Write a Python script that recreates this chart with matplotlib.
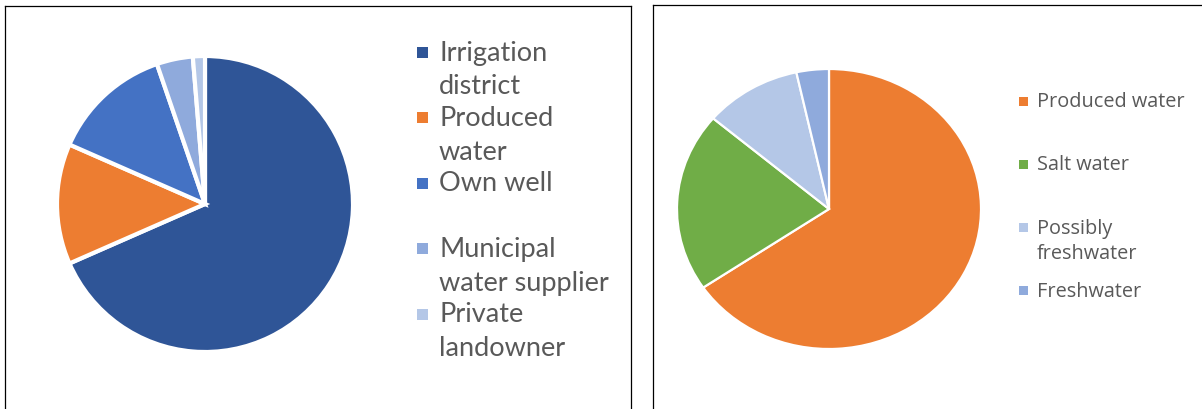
import matplotlib
matplotlib.use("Agg")
import matplotlib.pyplot as plt
from matplotlib.patches import Rectangle
from matplotlib.lines import Line2D

# water sources (left) and water types (right), counts
src_labels = ["Irrigation\ndistrict", "Produced\nwater", "Own well",
              "Municipal\nwater supplier", "Private\nlandowner"]
src_counts = [52, 10, 10, 3, 1]
src_colors = ["#2F5597", "#ED7D31", "#4472C4", "#8FAADC", "#B4C7E7"]

type_labels = ["Produced water", "Salt water", "Possibly\nfreshwater", "Freshwater"]
type_counts = [19, 6, 3, 1]
type_colors = ["#ED7D31", "#70AD47", "#B4C7E7", "#8FAADC"]

W, H = 1202, 410
fig = plt.figure(figsize=(W / 100, H / 100), dpi=100)
txt_col = "#595959"


def fx(x):
    return x / W


def fy(y):
    return 1 - y / H


# panel borders
for x0, x1, y0 in [(5, 631, 7), (653, 1210, 6)]:
    fig.add_artist(Line2D([fx(x0), fx(x0)], [fy(y0), fy(H + 5)], color="black", lw=0.9))
    fig.add_artist(Line2D([fx(x0), fx(x1)], [fy(y0), fy(y0)], color="black", lw=0.9))
    fig.add_artist(Line2D([fx(x1), fx(x1)], [fy(y0), fy(H + 5)], color="black", lw=0.9))

# left pie (circle, centre 205,205 r 148)
ax1 = fig.add_axes([fx(57), fy(353), 296 / W, 296 / H])
ax1.pie(src_counts, colors=src_colors, startangle=90, counterclock=False,
        wedgeprops=dict(edgecolor="white", linewidth=3))
ax1.set_aspect("auto")
ax1.set_xlim(-1, 1)
ax1.set_ylim(-1, 1)

# right pie (a bit wider than tall)
ax2 = fig.add_axes([fx(677), fy(350), 304 / W, 280 / H])
ax2.pie(type_counts, colors=type_colors, startangle=90, counterclock=False,
        wedgeprops=dict(edgecolor="white", linewidth=1.6))
ax2.set_aspect("auto")
ax2.set_xlim(-1, 1)
ax2.set_ylim(-1, 1)


def legend(labels, colors, x_box, box, x_txt, y0, step, line_h, size, family):
    for i, (lab, col) in enumerate(zip(labels, colors)):
        yc = y0 + i * step
        fig.add_artist(Rectangle((fx(x_box), fy(yc + box / 2)), box / W, box / H,
                                 transform=fig.transFigure, color=col, lw=0))
        for j, line in enumerate(lab.split("\n")):
            fig.text(fx(x_txt), fy(yc + j * line_h), line, fontsize=size,
                     family=family, color=txt_col, va="center", ha="left")


legend(src_labels, src_colors, 417, 11, 439, 53, 65.5, 34, 19.5, "Lato")
legend(type_labels, type_colors, 1019, 9, 1037, 102, 63.3, 25, 14.3, "Open Sans")

fig.savefig("out.png", dpi=100)
